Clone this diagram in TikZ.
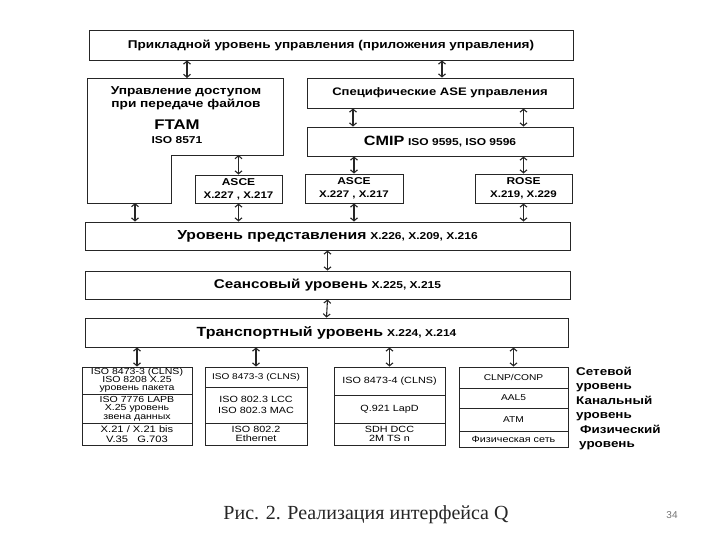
\documentclass[tikz,border=0pt]{standalone}
\usepackage{fontspec}
\setmainfont{Liberation Sans}[FakeStretch=1.2]
\newfontfamily\capfont{Liberation Serif}
\newfontfamily\plainsans{Liberation Sans}
\usetikzlibrary{arrows.meta}
\begin{document}
\begin{tikzpicture}[x=1pt,y=-1pt,
  line/.style={draw=black!85, line width=0.9pt},
  box/.style={line, rectangle, inner sep=0pt, align=center, font=\bfseries\fontsize{11.3}{13}\selectfont},
  cell/.style={line, rectangle, inner sep=0pt, align=center, font=\fontsize{9}{9}\selectfont},
  txt/.style={inner sep=0pt, align=center},
  arr/.style={{Straight Barb[length=3pt,width=7pt]}-{Straight Barb[length=3pt,width=7pt]}, line width=1.1pt, draw=black!85},
  lbl/.style={anchor=west, align=left, inner sep=0pt, font=\bfseries\fontsize{11.2}{14}\selectfont}]
\useasboundingbox (0,0) rectangle (720,540);

% upper boxes
\node[box, minimum width=484, minimum height=30] (top) at (331,45) {Прикладной уровень управления (приложения управления)};
\node[box, minimum width=266, minimum height=30, font=\bfseries\fontsize{10.9}{13}\selectfont] (ase) at (440,93) {Специфические ASE управления};
\node[box, minimum width=266, minimum height=29] (cmip) at (440,141.5) {{\fontsize{13.5}{16}\selectfont CMIP} {\fontsize{10}{12}\selectfont ISO 9595, ISO 9596}};

% FTAM L-shaped box
\draw[line] (87,78) -- (283,78) -- (283,155) -- (171,155) -- (171,203) -- (87,203) -- cycle;
\coordinate (ftamtop) at (187,78);
\coordinate (ftamnotch) at (238.5,155);
\coordinate (ftambot) at (135,203);
\node[txt, font=\bfseries\fontsize{11.4}{13}\selectfont] (ftamt) at (186,98.5) {Управление доступом\\при передаче файлов};
\node[txt, font=\bfseries\fontsize{14}{16}\selectfont] (ftam) at (177,125) {FTAM};
\node[txt, font=\bfseries\fontsize{10}{12}\selectfont] (ftamiso) at (177,140) {ISO 8571};

% ASCE / ROSE
\node[box, minimum width=87, minimum height=28, font=\bfseries\fontsize{10}{13}\selectfont] (asce1) at (238.5,189) {ASCE\\{\fontsize{9.6}{12}\selectfont X.227 , X.217}};
\node[box, minimum width=98, minimum height=29, font=\bfseries\fontsize{10}{13}\selectfont] (asce2) at (354,188.5) {ASCE\\{\fontsize{9.6}{12}\selectfont X.227 , X.217}};
\node[box, minimum width=97, minimum height=29, font=\bfseries\fontsize{10}{13}\selectfont] (rose) at (523.5,188.5) {ROSE\\{\fontsize{9.6}{12}\selectfont X.219, X.229}};

% layers
\node[box, minimum width=485, minimum height=28] (pres) at (327.5,236) {{\fontsize{13.1}{16}\selectfont Уровень представления} {\fontsize{10}{12}\selectfont X.226, X.209, X.216}};
\node[box, minimum width=485, minimum height=28] (sess) at (327.5,285) {{\fontsize{12.7}{16}\selectfont Сеансовый уровень} {\fontsize{10}{12}\selectfont X.225, X.215}};
\node[box, minimum width=483, minimum height=29] (trans) at (326.5,332.5) {{\fontsize{13.3}{16}\selectfont Транспортный уровень} {\fontsize{10}{12}\selectfont X.224, X.214}};

% bottom stacks
\node[cell, minimum width=110, minimum height=27, font=\fontsize{8.8}{8.2}\selectfont] (s1a) at (137,380.5) {ISO 8473-3 (CLNS)\\ISO 8208 X.25\\уровень пакета};
\node[cell, minimum width=110, minimum height=29, font=\fontsize{8.8}{8.6}\selectfont] (s1b) at (137,408.5) {ISO 7776 LAPB\\X.25 уровень\\звена данных};
\node[cell, minimum width=110, minimum height=22, font=\fontsize{9.3}{9.5}\selectfont] (s1c) at (137,434) {X.21 / X.21 bis\\V.35\quad G.703};

\node[cell, minimum width=102, minimum height=20, font=\fontsize{8.4}{9}\selectfont] (s2a) at (256,377) {ISO 8473-3 (CLNS)};
\node[cell, minimum width=102, minimum height=36, font=\fontsize{9}{10.5}\selectfont] (s2b) at (256,405) {ISO 802.3 LCC\\ISO 802.3 MAC};
\node[cell, minimum width=102, minimum height=22, font=\fontsize{9}{9.5}\selectfont] (s2c) at (256,434) {ISO 802.2\\Ethernet};

\node[cell, minimum width=111, minimum height=28] (s3a) at (389.5,381) {ISO 8473-4 (CLNS)};
\node[cell, minimum width=111, minimum height=28] (s3b) at (389.5,409) {Q.921 LapD};
\node[cell, minimum width=111, minimum height=22, font=\fontsize{9}{9.5}\selectfont] (s3c) at (389.5,434) {SDH DCC\\2M TS n};

\node[cell, minimum width=109, minimum height=21, font=\fontsize{8.5}{9}\selectfont] (s4a) at (513.5,377.5) {CLNP/CONP};
\node[cell, minimum width=109, minimum height=20, font=\fontsize{8.5}{9}\selectfont] (s4b) at (513.5,398) {AAL5};
\node[cell, minimum width=109, minimum height=23, font=\fontsize{8.5}{9}\selectfont] (s4c) at (513.5,419.5) {ATM};
\node[cell, minimum width=109, minimum height=16, font=\fontsize{9}{9}\selectfont] (s4d) at (513.5,439) {Физическая сеть};

% right labels
\node[lbl] (lnet) at (576,379) {Сетевой\\уровень};
\node[lbl] (llink) at (576,408.5) {Канальный\\уровень};
\node[lbl] (lphys) at (579,437) {\hspace*{1pt}Физический\\уровень};

% arrows
\draw[arr] (top.south -| ftamtop) -- (ftamtop);
\draw[arr] (top.south -| 442,0) -- (ase.north -| 442,0);
\draw[arr] (ase.south -| 353,0) -- (cmip.north -| 353,0);
\draw[arr] (ase.south -| rose) -- (cmip.north -| rose);
\draw[arr] (ftamnotch) -- (asce1.north);
\draw[arr] (cmip.south -| asce2) -- (asce2.north);
\draw[arr] (cmip.south -| rose) -- (rose.north);
\draw[arr] (ftambot) -- (pres.north -| ftambot);
\draw[arr] (asce1.south) -- (pres.north -| asce1);
\draw[arr] (asce2.south) -- (pres.north -| asce2);
\draw[arr] (rose.south) -- (pres.north -| rose);
\draw[arr] (pres.south) -- (sess.north);
\draw[arr] (sess.south) -- (trans.north);
\draw[arr] (trans.south -| s1a) -- (s1a.north);
\draw[arr] (trans.south -| s2a) -- (s2a.north);
\draw[arr] (trans.south -| s3a) -- (s3a.north);
\draw[arr] (trans.south -| s4a) -- (s4a.north);

% caption
\node[txt, font=\capfont\fontsize{20}{22}\selectfont, text=black!85] (cap) at (366,515) {Рис. 2. Реализация интерфейса Q};
\node[txt, font=\plainsans\fontsize{10}{12}\selectfont, text=black!55] (page) at (672,515) {34};
\end{tikzpicture}
\end{document}
